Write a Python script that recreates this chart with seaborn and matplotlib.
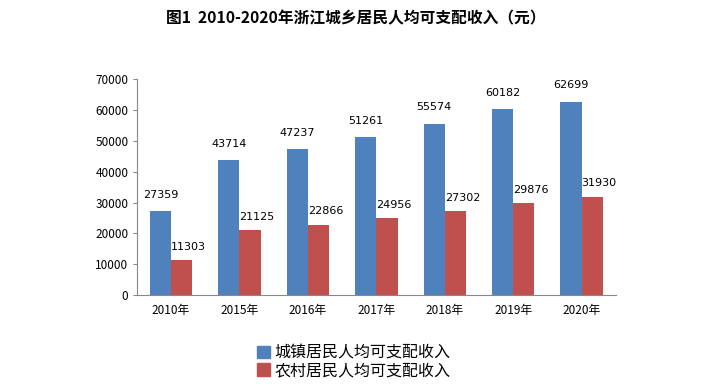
import pandas as pd
import matplotlib.pyplot as plt
import seaborn as sns

years = ['2010年', '2015年', '2016年', '2017年', '2018年', '2019年', '2020年']
urban = [27359, 43714, 47237, 51261, 55574, 60182, 62699]
rural = [11303, 21125, 22866, 24956, 27302, 29876, 31930]
series = ['城镇居民人均可支配收入', '农村居民人均可支配收入']
colors = ['#4F81BD', '#C0504D']

sns.set_style('white', {'text.color': 'black', 'xtick.color': 'black',
                        'ytick.color': 'black'})
plt.rcParams['font.family'] = ['Noto Sans CJK SC', 'DejaVu Sans']

df = pd.DataFrame({
    '年份': years * 2,
    '收入': urban + rural,
    '类别': [series[0]] * len(years) + [series[1]] * len(years),
})

fig = plt.figure(figsize=(7.12, 3.91), dpi=100)
ax = fig.add_axes([0.192, 0.245, 0.673, 0.553])

sns.barplot(data=df, x='年份', y='收入', hue='类别', palette=colors,
            width=0.62, saturation=1, linewidth=0, ax=ax, legend=False)

# 数据标签: 蓝色居中, 红色靠左
blue_bars, red_bars = ax.containers[0], ax.containers[1]
for bar, v in zip(blue_bars, urban):
    ax.annotate(str(v), (bar.get_x() + bar.get_width() / 2, v),
                xytext=(0, 8), textcoords='offset points',
                ha='center', va='bottom', fontsize=8, family='DejaVu Sans')
for bar, v in zip(red_bars, rural):
    ax.annotate(str(v), (bar.get_x(), v),
                xytext=(0, 6), textcoords='offset points',
                ha='left', va='bottom', fontsize=8, family='DejaVu Sans')

ax.set_ylim(0, 70000)
ax.set_yticks(range(0, 70001, 10000))
ax.set_xlabel('')
ax.set_ylabel('')
ax.tick_params(axis='both', labelsize=8.5, length=3, color='#888888',
               labelcolor='black', pad=3)
ax.tick_params(axis='x', length=0, pad=6)
ax.tick_params(axis='y', left=True)
for s in ['top', 'right']:
    ax.spines[s].set_visible(False)
for s in ['left', 'bottom']:
    ax.spines[s].set_color('#888888')
    ax.spines[s].set_linewidth(0.8)

fig.text(0.5, 0.952, '图1  2010-2020年浙江城乡居民人均可支配收入（元）',
         ha='center', va='center', fontsize=11.3, fontweight='bold',
         color='black')

handles = [plt.Rectangle((0, 0), 1, 1, color=c) for c in colors]
fig.legend(handles, series, loc='center', bbox_to_anchor=(0.497, 0.075),
           ncol=1, frameon=False, fontsize=11.5, handlelength=0.8,
           handleheight=0.8, handletextpad=0.3, labelspacing=0.05,
           labelcolor='black')

fig.savefig('out.png', dpi=100)
